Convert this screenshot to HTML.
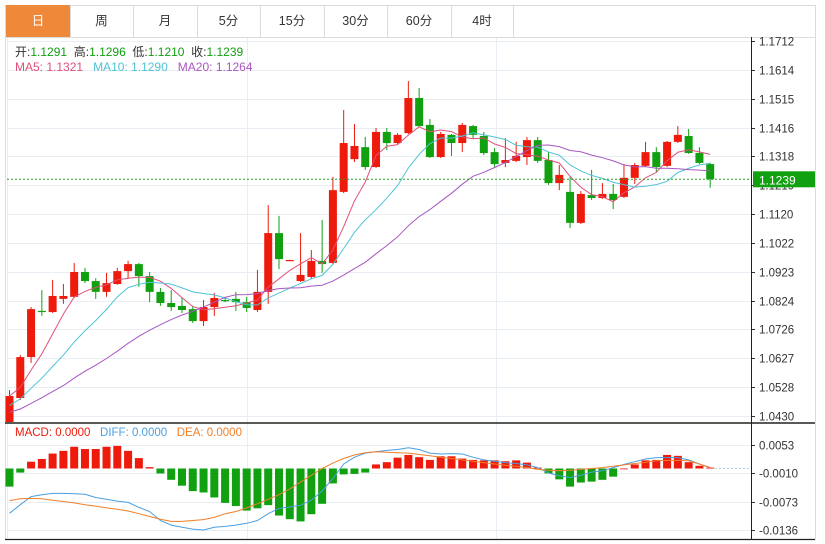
<!DOCTYPE html>
<html><head><meta charset="utf-8"><style>
body{margin:0;background:#fff;width:825px;height:544px;overflow:hidden;font-family:"Liberation Sans","Noto Sans CJK SC",sans-serif}
svg{position:absolute;left:0;top:0}
</style></head><body>
<svg id="c" width="825" height="544"></svg>
<script>
const priorCloses=[1.040,1.041,1.040,1.042,1.043,1.041,1.042,1.044,1.043,1.042,1.041,1.043,1.044,1.044,1.045,1.048,1.050,1.051,1.050];
const opens=[1.0399,1.0491,1.0631,1.0789,1.0785,1.0830,1.0837,1.0922,1.0891,1.0854,1.0881,1.0925,1.0949,1.0908,1.0854,1.0816,1.0806,1.0795,1.0754,1.0802,1.0826,1.0830,1.0819,1.0792,1.0854,1.1055,1.0961,1.0891,1.0905,1.0960,1.0953,1.1196,1.1308,1.1349,1.1281,1.1401,1.1363,1.1397,1.1517,1.1425,1.1315,1.1391,1.1363,1.1421,1.1387,1.1332,1.1295,1.1302,1.1315,1.1373,1.1305,1.1226,1.1196,1.1090,1.1185,1.1175,1.1189,1.1179,1.1244,1.1285,1.1332,1.1285,1.1367,1.1387,1.1329,1.1291];
const highs=[1.0518,1.0638,1.0802,1.0860,1.0895,1.0881,1.0953,1.0936,1.0901,1.0919,1.0936,1.0960,1.0953,1.0922,1.0867,1.0860,1.0833,1.0806,1.0826,1.0850,1.0837,1.0854,1.0837,1.0929,1.1151,1.1114,1.0964,1.1055,1.0997,1.1100,1.1247,1.1476,1.1428,1.1384,1.1415,1.1415,1.1397,1.1575,1.1551,1.1445,1.1401,1.1394,1.1432,1.1425,1.1401,1.1346,1.1380,1.1367,1.1384,1.1384,1.1332,1.1288,1.1247,1.1199,1.1271,1.1226,1.1223,1.1291,1.1295,1.1367,1.1349,1.1370,1.1421,1.1411,1.1349,1.1296];
const lows=[1.0389,1.0484,1.0611,1.0772,1.0782,1.0813,1.0833,1.0884,1.0830,1.0837,1.0878,1.0901,1.0871,1.0819,1.0806,1.0789,1.0782,1.0748,1.0737,1.0772,1.0819,1.0789,1.0785,1.0785,1.0813,1.0932,1.0960,1.0888,1.0898,1.0919,1.0949,1.1192,1.1298,1.1271,1.1278,1.1339,1.1360,1.1394,1.1418,1.1312,1.1312,1.1319,1.1332,1.1377,1.1322,1.1278,1.1281,1.1298,1.1288,1.1295,1.1220,1.1202,1.1072,1.1086,1.1168,1.1172,1.1137,1.1175,1.1223,1.1281,1.1264,1.1281,1.1363,1.1326,1.1291,1.1210];
const closes=[1.0498,1.0631,1.0795,1.0785,1.0840,1.0840,1.0922,1.0891,1.0854,1.0884,1.0925,1.0949,1.0908,1.0854,1.0816,1.0802,1.0792,1.0754,1.0802,1.0833,1.0825,1.0819,1.0799,1.0854,1.1055,1.0966,1.0963,1.0912,1.0960,1.0949,1.1202,1.1363,1.1353,1.1281,1.1401,1.1363,1.1391,1.1517,1.1421,1.1315,1.1394,1.1363,1.1425,1.1391,1.1329,1.1291,1.1305,1.1319,1.1373,1.1302,1.1226,1.1254,1.1090,1.1189,1.1175,1.1189,1.1168,1.1244,1.1288,1.1332,1.1281,1.1367,1.1391,1.1329,1.1295,1.1239];
const macdHist=[-0.0040,-0.0009,0.0015,0.0021,0.0033,0.0039,0.0048,0.0043,0.0043,0.0048,0.0050,0.0039,0.0023,0.0003,-0.0011,-0.0025,-0.0038,-0.0050,-0.0053,-0.0064,-0.0076,-0.0083,-0.0093,-0.0088,-0.0081,-0.0104,-0.0112,-0.0117,-0.0101,-0.0078,-0.0033,-0.0013,-0.0012,-0.0009,
0.0009,0.0014,0.0024,0.0030,0.0025,0.0019,0.0027,0.0027,0.0022,0.0019,0.0018,0.0018,0.0016,0.0018,0.0013,0.0002,
-0.0011,-0.0024,-0.0040,-0.0031,-0.0029,-0.0025,-0.0018,0.0000,0.0009,0.0018,0.0019,0.0030,0.0028,0.0014,0.0006,0.0002];
const diffLine=[-0.0099,-0.0080,-0.0062,-0.0058,-0.0055,-0.0055,-0.0056,-0.0057,-0.0064,-0.0068,-0.0072,-0.0075,-0.0086,-0.0095,-0.0115,-0.0125,-0.0130,-0.0134,-0.0136,-0.0130,-0.0128,-0.0125,-0.0121,-0.0115,-0.0100,-0.0088,-0.0085,-0.0081,-0.0070,-0.0050,-0.0022,0.0010,0.0025,0.0034,0.0037,0.0040,0.0042,0.0046,0.0042,0.0034,0.0032,0.0033,0.0032,0.0025,0.0019,0.0016,0.0013,0.0011,0.0008,0.0002,-0.0010,-0.0016,-0.0020,-0.0015,-0.0008,-0.0005,0.0002,0.0009,0.0015,0.0021,0.0024,0.0024,0.0024,0.0019,0.0010,0.0002];
const deaLine=[-0.0071,-0.0067,-0.0066,-0.0067,-0.0070,-0.0073,-0.0076,-0.0080,-0.0083,-0.0087,-0.0090,-0.0094,-0.0100,-0.0106,-0.0112,-0.0117,-0.0117,-0.0115,-0.0113,-0.0108,-0.0100,-0.0095,-0.0087,-0.0078,-0.0068,-0.0058,-0.0045,-0.0030,-0.0015,0.0000,0.0012,0.0022,0.0030,0.0035,0.0037,0.0036,0.0035,0.0034,0.0031,0.0028,0.0025,0.0022,0.0019,0.0016,0.0013,0.0010,0.0007,0.0005,0.0002,-0.0002,-0.0004,-0.0005,-0.0004,-0.0002,0.0000,0.0002,0.0005,0.0008,0.0011,0.0014,0.0017,0.0018,0.0018,0.0017,0.0010,0.0002];
const priceTicks=[1.1712,1.1614,1.1515,1.1416,1.1318,1.1219,1.1120,1.1022,1.0923,1.0824,1.0726,1.0627,1.0528,1.0430];
const macdTicks=[0.0053,-0.0010,-0.0073,-0.0136];
const tabs=["日","周","月","5分","15分","30分","60分","4时"];
const lastPrice=1.1239;

const NS="http://www.w3.org/2000/svg";
const svg=document.getElementById('c');
function el(t,a,p){const e=document.createElementNS(NS,t);for(const k in a)e.setAttribute(k,a[k]);(p||svg).appendChild(e);return e;}
const xAt=i=>9.5+10.78*i;
const yP=p=>41+(1.1712-p)/0.000342;
const yM=v=>468.5-v/0.000221;
const RED="#ee1a0c",GRN="#10a010";

let f=el('rect',{x:5.5,y:5.5,width:810,height:534,fill:'none',stroke:'#dcdcdc'});

el('line',{x1:5,y1:37.5,x2:815,y2:37.5,stroke:'#dcdcdc'});
const tw=[6,70,133,197,260,324,387,451,513];
tabs.forEach((t,i)=>{
  const g=el('g',{});
  
  
  if(i===0) el('rect',{x:tw[0],y:5,width:tw[1]-tw[0],height:32,fill:'#f0883a'},g);
  el('line',{x1:tw[i+1]+.5,y1:5,x2:tw[i+1]+.5,y2:37,stroke:'#dcdcdc'},g);
  const tx=el('text',{x:(tw[i]+tw[i+1])/2,y:25,'text-anchor':'middle','font-size':12.5,fill:i===0?'#fff':'#333'},g);
  tx.textContent=t;
});
priceTicks.forEach(p=>{const y=Math.round(yP(p))+.5;
  el('line',{x1:7,y1:y,x2:751,y2:y,stroke:'#e8eef3'});
  el('line',{x1:751,y1:y,x2:755,y2:y,stroke:'#333'});
  const t=el('text',{x:759,y:y+4,'font-size':11.5,fill:'#333'});
  
  
  t.textContent=p.toFixed(4);
});
macdTicks.forEach(v=>{const y=Math.round(yM(v))+.5;
  el('line',{x1:7,y1:y,x2:751,y2:y,stroke:'#e8eef3'});
  el('line',{x1:751,y1:y,x2:755,y2:y,stroke:'#333'});
  const t=el('text',{x:759,y:y+4,'font-size':11.5,fill:'#333'});
  
  
  t.textContent=v.toFixed(4);
});
[7.5,247.5,496.5].forEach(x=>el('line',{x1:x,y1:38,x2:x,y2:539,stroke:'#e8eef3'}));
el('line',{x1:5,y1:423,x2:815,y2:423,stroke:'#222','stroke-width':1.5});
el('line',{x1:5,y1:539.5,x2:815,y2:539.5,stroke:'#222','stroke-width':1.2});
el('line',{x1:751.5,y1:37,x2:751.5,y2:539,stroke:'#222'});

const cg=el('g',{});
opens.forEach((o,i)=>{
  const c=closes[i],up=c>=o,col=up?RED:GRN,x=xAt(i);
  const g=el('g',{},cg);
  
  
  el('line',{x1:x,y1:yP(highs[i]),x2:x,y2:Math.min(yP(lows[i]),422),stroke:col,'stroke-width':1},g);
  const t=yP(Math.max(o,c)),b=Math.min(yP(Math.min(o,c)),422);
  el('rect',{x:x-4,y:t,width:8,height:Math.max(b-t,1.2),fill:col},g);
});
const allCloses=priorCloses.concat(closes),P=priorCloses.length;
function ma(n){return closes.map((_,i)=>{const j=i+P,s=Math.max(0,j-n+1);let a=0;for(let k=s;k<=j;k++)a+=allCloses[k];return a/(j-s+1);});}
[[5,'#e0507a','ma5-line'],[10,'#4ec3d6','ma10-line'],[20,'#a857c0','ma20-line']].forEach(([n,col,nm])=>{
  const pts=ma(n).map((v,i)=>xAt(i).toFixed(1)+','+Math.min(yP(v),422).toFixed(1)).join(' ');
  const p=el('polyline',{points:pts,fill:'none',stroke:col,'stroke-width':1});
  
});
const ly=yP(lastPrice);
el('line',{x1:7,y1:ly,x2:751,y2:ly,stroke:'#22a022','stroke-dasharray':'2,2'});
const lb=el('g',{});
el('rect',{x:753,y:ly-8,width:62,height:16,fill:'#10a010'},lb);
const lt=el('text',{x:759,y:ly+5,'font-size':12,fill:'#fff'},lb);lt.textContent=lastPrice.toFixed(4);

el('line',{x1:715,y1:yM(0),x2:751,y2:yM(0),stroke:'#a8d8e8','stroke-dasharray':'2,2'});
const mg=el('g',{});
macdHist.forEach((v,i)=>{const y0=yM(0),y1=yM(v);
  const r=el('rect',{x:xAt(i)-4,y:Math.min(y0,y1),width:8,height:Math.max(Math.abs(y1-y0),0.8),fill:v>=0?RED:GRN},mg);
  
  
});
[[diffLine,'#4a9fe0','diff-line'],[deaLine,'#f07f2a','dea-line']].forEach(([arr,col,nm])=>{
  const p=el('polyline',{points:arr.map((v,i)=>xAt(i).toFixed(1)+','+yM(v).toFixed(1)).join(' '),fill:'none',stroke:col,'stroke-width':1});
  
});
</script>
<div style="position:absolute;left:15px;top:43px;font-size:12px;color:#333;white-space:nowrap">开:<span style="color:#10a010">1.1291</span>&nbsp;&nbsp;高:<span style="color:#10a010">1.1296</span>&nbsp;&nbsp;低:<span style="color:#10a010">1.1210</span>&nbsp;&nbsp;收:<span style="color:#10a010">1.1239</span></div>
<div style="position:absolute;left:15px;top:60px;font-size:12px;white-space:nowrap"><span style="color:#e0507a">MA5: 1.1321</span>&nbsp;&nbsp;&nbsp;<span style="color:#4ec3d6">MA10: 1.1290</span>&nbsp;&nbsp;&nbsp;<span style="color:#a857c0">MA20: 1.1264</span></div>
<div style="position:absolute;left:15px;top:427px;font-size:11.5px;white-space:nowrap"><span style="color:#ee1a0c">MACD: 0.0000</span>&nbsp;&nbsp;&nbsp;<span style="color:#4a9fe0">DIFF: 0.0000</span>&nbsp;&nbsp;&nbsp;<span style="color:#f07f2a">DEA: 0.0000</span></div>
</body></html>
